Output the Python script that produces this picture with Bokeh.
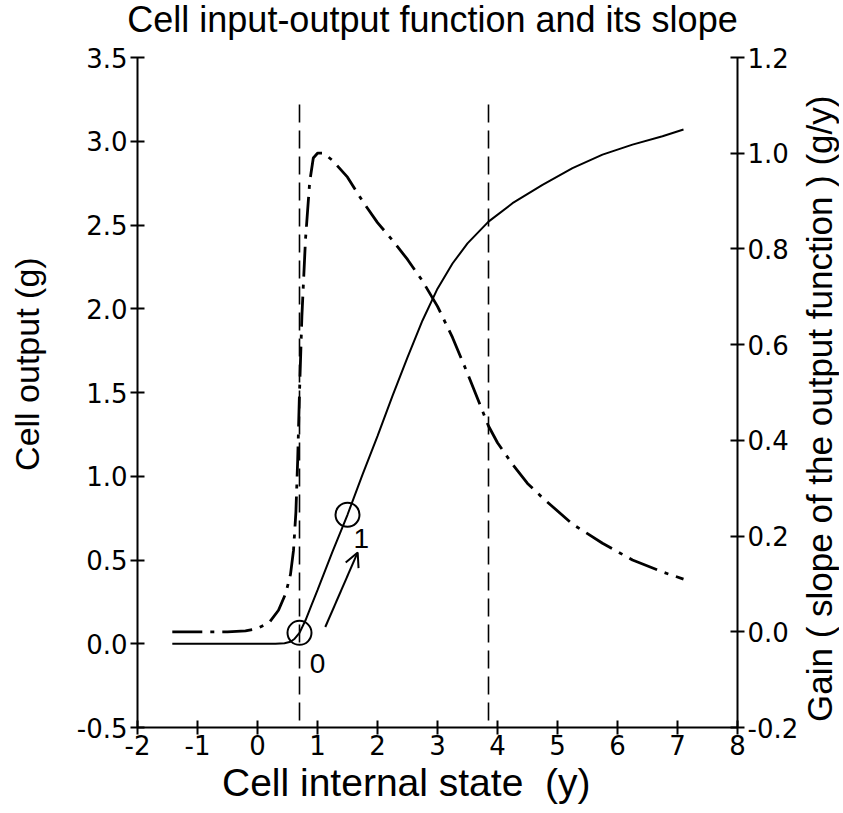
from bokeh.plotting import figure
from bokeh.layouts import column, row
from bokeh.models import (Range1d, LinearAxis, FixedTicker, NumeralTickFormatter, Arrow,
                          OpenHead, Div)
from bokeh.embed import file_html
from bokeh.resources import INLINE
from bokeh.core.properties import value

# ---- data ----
state_x = [-1.42, -1.0, -0.5, 0.0, 0.3, 0.45, 0.55, 0.62, 0.7, 0.8, 0.9, 1.0, 1.25, 1.5,
           1.75, 2.0, 2.25, 2.5, 2.75, 3.0, 3.25, 3.5, 3.85, 4.25, 4.75, 5.25, 5.75, 6.25,
           6.75, 7.1]
output_g = [0.0, 0.0, 0.0, 0.0, 0.0, 0.003, 0.012, 0.03, 0.065, 0.14, 0.23, 0.32, 0.55, 0.77,
            1.01, 1.24, 1.48, 1.71, 1.93, 2.12, 2.27, 2.39, 2.52, 2.63, 2.74, 2.84, 2.92, 2.98,
            3.03, 3.07]

gain_x = [-1.42, -1.0, -0.5, -0.2, 0.0, 0.2, 0.35, 0.47, 0.55, 0.6, 0.64, 0.67, 0.7, 0.74,
          0.8, 0.87, 0.93, 1.0, 1.1, 1.25, 1.5, 1.75, 2.0, 2.25, 2.5, 2.75, 3.0, 3.25, 3.5,
          3.85, 4.0, 4.25, 4.5, 4.75, 5.25, 5.75, 6.25, 6.75, 7.1]
gain_y = [0.0, 0.0, 0.0, 0.002, 0.007, 0.02, 0.045, 0.08, 0.12, 0.17, 0.25, 0.36, 0.5, 0.66,
          0.82, 0.94, 0.99, 1.0, 1.0, 0.985, 0.95, 0.9, 0.855, 0.818, 0.778, 0.733, 0.68,
          0.615, 0.54, 0.43, 0.395, 0.35, 0.31, 0.28, 0.225, 0.185, 0.15, 0.125, 0.11]

marker_x = [0.7, 1.5]
marker_y = [0.065, 0.77]
marker_labels = ["0", "1"]
marker_label_x = [1.0, 1.73]
marker_label_y = [-0.12, 0.63]

arrow_start = (1.13, 0.10)
arrow_end = (1.67, 0.545)

dashed_x = [0.7, 3.85]
dashed_top = 3.22

x_ticks = [-2, -1, 0, 1, 2, 3, 4, 5, 6, 7, 8]
y_ticks = [-0.5, 0.0, 0.5, 1.0, 1.5, 2.0, 2.5, 3.0, 3.5]
gain_ticks = [-0.2, 0.0, 0.2, 0.4, 0.6, 0.8, 1.0, 1.2]

title_text = "Cell input-output function and its slope"
x_label = "Cell internal state  (y)"
y_label = "Cell output  (g)"
gain_label = "Gain ( slope of the output function ) (g/y)"

FONT = "Liberation Sans"
TICKFONT = "DejaVu Sans"
NBSP = "\u00a0"

TOTAL_W, TOTAL_H = 835, 805
TITLE_H = 40
XLABEL_H = 38
RIGHT_W = 32
W = TOTAL_W - RIGHT_W                 # figure width
H = TOTAL_H - TITLE_H - XLABEL_H      # figure height
FL, FR = 137, 737                     # frame left/right (page px)
FT, FB = 57 - TITLE_H, 727 - TITLE_H  # frame top/bottom inside the figure

title_div = Div(text=title_text, width=TOTAL_W, height=TITLE_H, margin=0,
                styles={"font-family": FONT, "font-size": "36px", "line-height": "40px",
                        "text-align": "center", "text-indent": "30px", "color": "black",
                        "white-space": "nowrap"})

# right axis title, reading bottom-to-top
gain_div = Div(text=gain_label + NBSP, width=RIGHT_W, height=H, margin=0,
               styles={"writing-mode": "vertical-rl", "transform": "rotate(180deg)",
                       "font-family": FONT, "font-size": "35px", "line-height": "33px",
                       "text-align": "center", "white-space": "nowrap", "color": "black"})

# x axis title
xlabel_div = Div(text=x_label, width=TOTAL_W, height=XLABEL_H, margin=0,
                 styles={"font-family": FONT, "font-size": "39px", "line-height": "32px",
                         "text-align": "left", "text-indent": "222px", "color": "black",
                         "white-space": "pre"})

p = figure(width=W, height=H, output_backend="svg", toolbar_location=None,
           x_range=Range1d(-2, 8), y_range=Range1d(-0.5, 3.5),
           min_border_left=FL, min_border_right=W - FR,
           min_border_top=FT, min_border_bottom=H - FB)
p.extra_y_ranges = {"gain": Range1d(-0.2, 1.2)}
p.outline_line_color = None
p.grid.visible = False
p.background_fill_color = "white"
p.border_fill_color = "white"


def style_axis(ax, ticks, fmt, tick_standoff):
    ax.ticker = FixedTicker(ticks=ticks)
    ax.formatter = NumeralTickFormatter(format=fmt)
    ax.major_label_text_font = TICKFONT
    ax.major_label_text_font_size = "26px"
    ax.major_label_text_color = "black"
    ax.major_label_standoff = tick_standoff
    ax.axis_line_width = 2
    ax.axis_line_color = "black"
    ax.major_tick_line_width = 2
    ax.major_tick_line_color = "black"
    ax.major_tick_in = 7
    ax.major_tick_out = 7
    ax.minor_tick_line_color = None
    ax.axis_label_text_font = FONT
    ax.axis_label_text_font_style = "normal"
    ax.axis_label_text_color = "black"


style_axis(p.xaxis[0], x_ticks, "0", 0)
style_axis(p.yaxis[0], y_ticks, "0.0", 3)
right = LinearAxis(y_range_name="gain")
style_axis(right, gain_ticks, "0.0", 3)
p.add_layout(right, "right")

# left axis title
p.yaxis[0].axis_label = NBSP * 7 + y_label
p.yaxis[0].axis_label_text_font_size = "34px"
p.yaxis[0].axis_label_standoff = 28

# vertical dashed guide lines (drawn top to bottom so the pattern starts at the top)
p.segment(x0=dashed_x, y0=[dashed_top] * len(dashed_x), x1=dashed_x, y1=[-0.5] * len(dashed_x),
          line_color="black", line_width=1.6, line_dash="18 8")

# output function
p.line(state_x, output_g, line_color="black", line_width=2)

# gain curve (right axis)
p.line(gain_x, gain_y, y_range_name="gain", line_color="black", line_width=2.8,
       line_dash="30 8 4 8")

# circles and labels
p.scatter(marker_x, marker_y, marker="circle", size=24, fill_color=None,
          line_color="black", line_width=2)
p.text(marker_label_x, marker_label_y, text=marker_labels, text_font=value(FONT),
       text_font_size="28px", text_color="black", text_align="center", text_baseline="middle")

p.add_layout(Arrow(end=OpenHead(size=14, line_width=2, line_color="black"),
                   x_start=arrow_start[0], y_start=arrow_start[1],
                   x_end=arrow_end[0], y_end=arrow_end[1],
                   line_width=2, line_color="black"))

layout = column(title_div, row(p, gain_div, spacing=0), xlabel_div, spacing=0)
open("out.html", "w").write(file_html(layout, INLINE))
